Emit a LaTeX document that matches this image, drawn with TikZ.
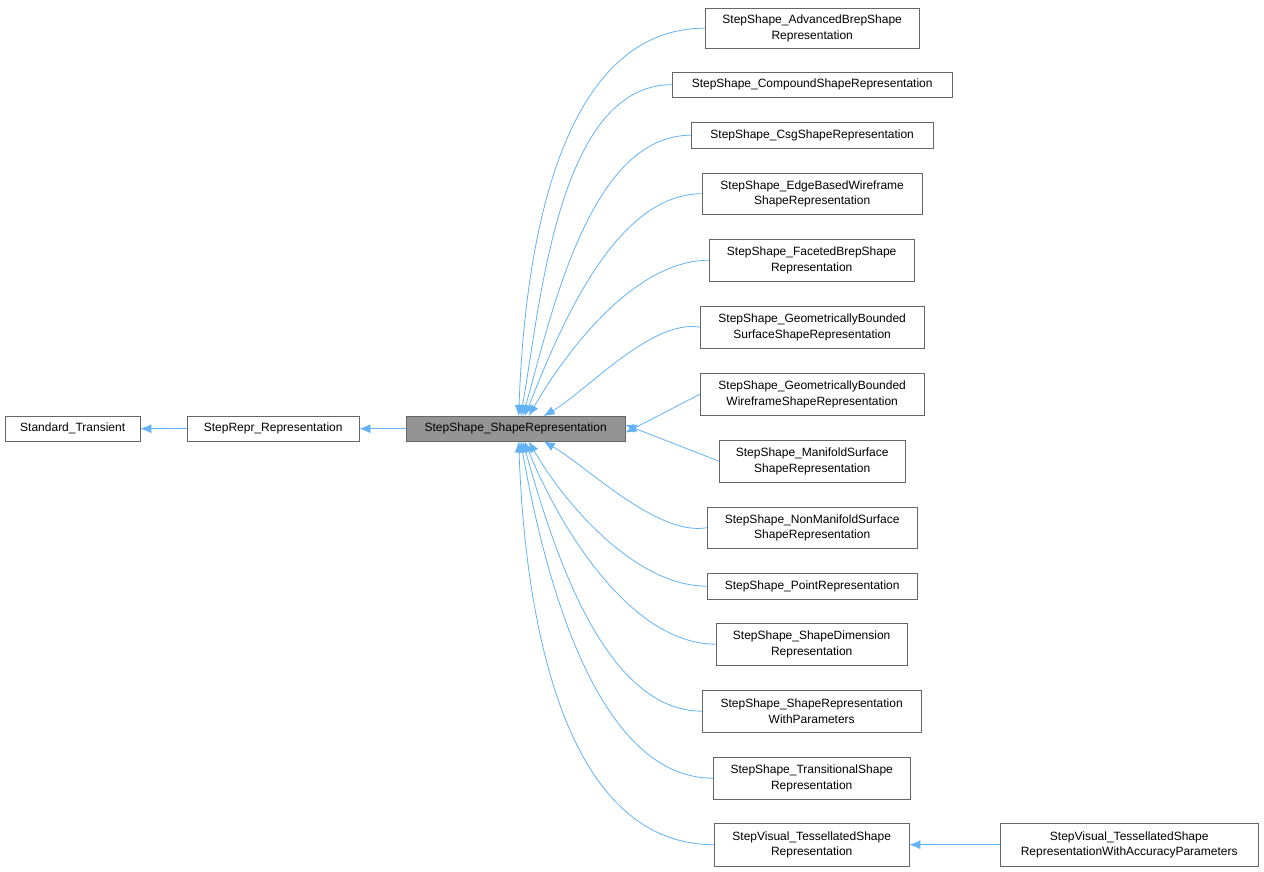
\documentclass[tikz,border=0pt]{standalone}
\usepackage{fontspec}
\setmainfont{Liberation Sans}
\usetikzlibrary{arrows.meta}
\definecolor{edgec}{HTML}{63B2F5}
\begin{document}
\begin{tikzpicture}[x=1pt,y=-1pt,
 box/.style={draw=black!60,fill=white,inner sep=0pt,align=center,font=\fontsize{12}{15.5}\selectfont,anchor=north west},
 edge/.style={draw=edgec,line width=0.8pt,{Latex[length=11pt,width=9pt]}-}]
\useasboundingbox (0,0) rectangle (1264,872);
\newcommand{\bx}[6]{\node[box,minimum width=#4-#2,minimum height=#5-#3] (#1) at (#2,#3) {#6};}
\bx{st}{5}{416}{140}{441}{Standard\_Transient}
\bx{rr}{187}{416}{359}{441}{StepRepr\_Representation}
\node[box,fill=black!42,minimum width=219,minimum height=25] (p) at (406,416) {StepShape\_ShapeRepresentation};
\bx{a}{705}{8}{919}{48}{StepShape\_AdvancedBrepShape\\Representation}
\bx{b}{672}{72}{952}{97}{StepShape\_CompoundShapeRepresentation}
\bx{c}{691}{122}{933}{148}{StepShape\_CsgShapeRepresentation}
\bx{d}{702}{173}{922}{214}{StepShape\_EdgeBasedWireframe\\ShapeRepresentation}
\bx{e}{709}{239}{914}{281}{StepShape\_FacetedBrepShape\\Representation}
\bx{f}{700}{306}{924}{348}{StepShape\_GeometricallyBounded\\SurfaceShapeRepresentation}
\bx{g}{700}{373}{924}{415}{StepShape\_GeometricallyBounded\\WireframeShapeRepresentation}
\bx{h}{719}{440}{905}{482}{StepShape\_ManifoldSurface\\ShapeRepresentation}
\bx{i}{707}{507}{917}{548}{StepShape\_NonManifoldSurface\\ShapeRepresentation}
\bx{j}{707}{573}{917}{599}{StepShape\_PointRepresentation}
\bx{k}{716}{623}{907}{665}{StepShape\_ShapeDimension\\Representation}
\bx{l}{702}{690}{921}{732}{StepShape\_ShapeRepresentation\\WithParameters}
\bx{m}{713}{757}{910}{799}{StepShape\_TransitionalShape\\Representation}
\bx{n}{714}{823}{909}{866}{StepVisual\_TessellatedShape\\Representation}
\bx{o}{1000}{823}{1258}{866}{StepVisual\_TessellatedShape\\RepresentationWithAccuracyParameters}
\draw[edge] (st.east) -- (rr.west);
\draw[edge] (rr.east) -- (p.west);
\draw[edge] (n.east) -- (o.west);
\draw[edge] ([xshift=3]p.north) to[out=88,in=180,looseness=0.9] (a.west);
\draw[edge] ([xshift=5]p.north) to[out=80,in=180,looseness=0.8] (b.west);
\draw[edge] ([xshift=7]p.north) to[out=74,in=180,looseness=0.8] (c.west);
\draw[edge] ([xshift=9]p.north) to[out=68,in=180,looseness=0.8] (d.west);
\draw[edge] ([xshift=13]p.north) to[out=60,in=180,looseness=0.8] (e.west);
\draw[edge] ([xshift=28]p.north) to[out=30,in=170,looseness=0.7] (f.west);
\draw[edge] ([yshift=-4]p.east) -- (g.west);
\draw[edge] ([yshift=4]p.east) -- (h.west);
\draw[edge] ([xshift=28]p.south) to[out=-30,in=190,looseness=0.7] (i.west);
\draw[edge] ([xshift=13]p.south) to[out=-60,in=180,looseness=0.8] (j.west);
\draw[edge] ([xshift=9]p.south) to[out=-68,in=180,looseness=0.8] (k.west);
\draw[edge] ([xshift=7]p.south) to[out=-74,in=180,looseness=0.8] (l.west);
\draw[edge] ([xshift=5]p.south) to[out=-80,in=180,looseness=0.8] (m.west);
\draw[edge] ([xshift=3]p.south) to[out=-88,in=180,looseness=0.9] (n.west);
\end{tikzpicture}
\end{document}
